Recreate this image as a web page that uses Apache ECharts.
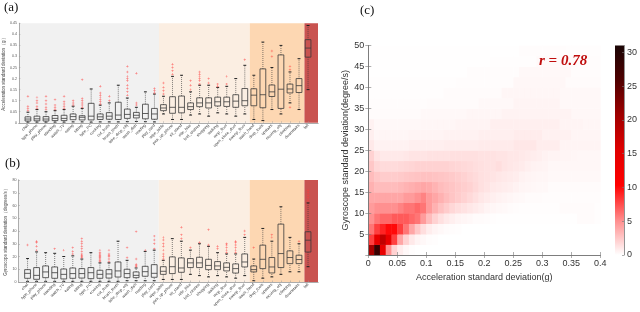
<!DOCTYPE html>
<html><head><meta charset="utf-8">
<script src="https://cdn.jsdelivr.net/npm/echarts@6/dist/echarts.min.js"></script>
<style>html,body{margin:0;padding:0;background:#fff}#c{width:640px;height:312px}</style>
</head><body><div id="c"></div>
<script>
// ---------------- DATA ----------------
const activities = ['chat','type_phone','play_phone','standing','watch_TV','eating','sitting','type_PC','cooking','cut_fruits','brush_teeth','take_drop_obj','wash_dish','reading','play_card','wipe_table','pick_up_phone','sit_stand','ride_bike','fold_clothes','shopping','walking','mop_floor','open_close_door','sweep_floor','wash_hand','drop_tools','upstairs','moving_obj','climbing','downstairs','fall'];
// [min, Q1, median, Q3, max]
const accStats = [
 [0.003,0.008,0.017,0.027,0.048],[0.003,0.009,0.018,0.03,0.06],[0.003,0.008,0.017,0.028,0.05],[0.003,0.01,0.02,0.033,0.055],
 [0.003,0.01,0.02,0.034,0.06],[0.004,0.014,0.028,0.04,0.075],[0.004,0.013,0.025,0.032,0.065],[0.003,0.013,0.03,0.088,0.153],
 [0.004,0.015,0.027,0.04,0.08],[0.004,0.016,0.03,0.046,0.09],[0.004,0.015,0.035,0.093,0.17],[0.005,0.02,0.038,0.062,0.112],
 [0.006,0.022,0.034,0.047,0.07],[0.005,0.018,0.042,0.084,0.14],[0.004,0.016,0.04,0.065,0.13],[0.04,0.055,0.067,0.082,0.12],
 [0.015,0.043,0.07,0.118,0.21],[0.015,0.045,0.07,0.121,0.215],[0.035,0.06,0.073,0.09,0.14],[0.04,0.073,0.09,0.113,0.17],
 [0.03,0.067,0.09,0.113,0.17],[0.045,0.076,0.095,0.116,0.16],[0.04,0.074,0.095,0.116,0.165],[0.03,0.07,0.098,0.127,0.2],
 [0.04,0.077,0.1,0.155,0.26],[0.015,0.077,0.125,0.154,0.215],[0.01,0.068,0.127,0.244,0.365],[0.06,0.119,0.14,0.171,0.25],
 [0.04,0.065,0.152,0.307,0.35],[0.09,0.135,0.153,0.175,0.23],[0.06,0.137,0.168,0.2,0.29],[0.15,0.297,0.338,0.376,0.44]
];
const accOutliers = [
 [0.055,0.065,0.075,0.12],[0.065,0.075,0.09,0.1,0.115],[0.06,0.07,0.085,0.1,0.12],[0.06,0.07,0.08,0.105],
 [0.065,0.075,0.085,0.095,0.12],[0.08,0.09,0.1],[0.07,0.08,0.09,0.1,0.11,0.195],[],
 [0.085,0.095,0.105,0.115,0.125,0.135,0.165],[0.1,0.12],[],[0.125,0.14,0.155,0.17,0.19,0.2,0.21,0.23,0.255],
 [0.08,0.09,0.224],[],[0.135,0.145,0.155],[0.13,0.145,0.16,0.18],
 [0.22,0.235,0.25,0.265],[],[0.15,0.17,0.19],[0.175,0.19,0.2,0.21,0.22,0.23],
 [0.18,0.2],[0.165,0.175],[0.175,0.21],[],
 [0.285],[],[],[0.3,0.325],
 [],[0.07,0.24,0.255],[],[]
];
const gyroStats = [
 [0.5,2.9,6.8,9.7,18.4],[0.5,2.1,5.2,11.3,23.6],[0.5,3.4,7.9,12.6,23],[0.5,2.9,7.3,11.8,22.5],
 [0.5,2.4,6,10.2,20],[0.5,2.9,6.6,11,20.5],[0.5,3.1,6.6,10.5,18],[0.5,2.6,7.3,11.3,23],
 [0.5,2.9,6,9.2,15],[0.5,3.1,6.3,9.7,15],[0.5,3.9,8.7,15.7,32],[1,3.4,6.6,10,17],
 [1,3.4,5.2,7.9,11],[1,4.5,8.1,12.3,24],[1,3.7,6.8,13.6,25],[2,6,8.4,12,17],
 [2,6.6,12,19.7,34],[2,7.6,11,18.9,32],[6,11.3,15,18.4,25],[5,11.3,15,19.4,30],
 [4,9.7,13,17.8,28],[5,9.7,12.6,16,23],[4,8.7,11.5,15,22],[3,7,10.5,14.2,22],
 [5,11.8,15.7,22,35],[1,7.9,9.7,12.6,18],[3,10.5,17.8,28.9,42],[4,7.1,11.8,19.2,32],
 [6,11.3,22.3,45.4,59],[8,14.4,19.2,24.4,35],[8,14.4,17.6,21,30],[12,23.5,32.8,39.4,62]
];
const gyroOutliers = [
 [29],[25,28,31,32],[],[26],
 [25],[22,24,27],[19,20,21,22,24,26,28,30,32,34],[],
 [16,17,18,19,20,21,22,23,25],[16,18,20,21,22,25],[],[19,27],
 [12,13,14,18,39.5],[25],[26,30,33,36],[18,20,22,25,28,30,33,35],
 [],[34,37,43],[27],[31],
 [29,41],[26,28],[23,25,27,29,30],[23,25,27,29,31,32],
 [37,40],[27],[],[35,37],
 [],[],[32],[64,66,68,70,72]
];
// activity groups (edges on the box-position scale)
const groupEdges = [0, 15.5, 25.55, 31.6, 33.1];

// Panel (c): density of (acc std, gyro std) pairs, bins 0.01 g x 2.5 deg/s, rows from y=0 upward
const binX = 0.01, binY = 2.5;
const densityRows = [
 [20,28,14,5,2,0.8,0.3,0.1,0,0, 0,0,0,0,0,0,0,0,0,0, 0,0,0,0,0,0,0,0,0,0, 0,0,0,0,0,0,0,0,0,0],
 [8,14,18,14,8,4,2,1,0.5,0.3, 0.15,0.1,0,0,0,0,0,0,0,0, 0,0,0,0,0,0,0,0,0,0, 0,0,0,0,0,0,0,0,0,0],
 [6,8,9,10,10,8,6,4,2.5,1.5, 0.8,0.5,0.3,0.2,0.15,0.1,0,0,0,0, 0,0,0,0,0,0,0,0,0,0, 0,0,0,0,0,0,0,0,0,0],
 [5,6,6.5,6.5,7,7,7,6.5,6,4.5, 3,2,1.4,1,0.7,0.5,0.4,0.3,0.2,0.2, 0.15,0.1,0.05,0.05,0.05,0.05,0.05,0.05,0.05,0.05, 0.05,0.05,0.05,0.05,0.05,0.05,0.2,0.2,0.2,0.1],
 [4.5,5,5,5,5,5.5,6,6,6.5,6, 4.5,3.5,2.8,2.3,1.8,1.5,1.3,1.1,0.9,0.7, 0.5,0.4,0.3,0.25,0.2,0.15,0.1,0.1,0.1,0.1, 0.1,0.1,0.1,0.2,0.2,0.2,0.2,0.2,0.2,0.1],
 [4,4,4,4,4,4,4.5,4.5,5,5.5, 4.5,4,3.5,3,2.6,2.3,2,1.7,1.4,1.1, 0.9,0.7,0.6,0.5,0.4,0.3,0.25,0.2,0.2,0.2, 0.15,0.15,0.15,0.15,0.15,0.15,0.15,0.15,0.15,0.15],
 [3.5,3,3,3,3,3.2,3.4,3.6,3.8,4, 3.8,3.4,3,2.8,2.6,2.4,2.2,2,1.7,1.4, 1.2,1,0.9,0.8,0.7,0.6,0.45,0.4,0.35,0.3, 0.3,0.2,0.2,0.2,0.2,0.2,0.2,0.2,0.2,0.2],
 [3,2.5,2.3,2.3,2.3,2.4,2.5,2.6,2.7,2.8, 2.8,2.7,2.6,2.5,2.4,2.2,2,1.8,1.6,1.4, 1.3,1.2,1.1,1,0.9,0.8,0.6,0.5,0.45,0.4, 0.4,0.3,0.3,0.3,0.3,0.3,0.3,0.3,0.3,0.3],
 [2.5,1.8,1.6,1.6,1.6,1.7,1.8,1.9,2,2, 2,2,2,2,1.9,1.8,1.7,1.6,1.5,1.4, 1.3,1.3,1.5,1.2,1.1,1,0.9,0.7,0.6,0.55, 0.5,0.35,0.35,0.35,0.35,0.35,0.35,0.35,0.35,0.35],
 [2,1.2,1,1,1,1,1.1,1.2,1.2,1.2, 1.3,1.3,1.3,1.3,1.4,1.4,1.4,1.4,1.4,1.3, 1.3,1.3,1.2,1.2,1.1,1.1,1,0.9,0.8,0.7, 0.6,0.5,0.5,0.45,0.45,0.4,0.35,0.35,0.35,0.35],
 [1,0.6,0.6,0.6,0.6,0.6,0.6,0.7,0.7,0.7, 0.7,0.7,0.7,0.8,0.8,0.8,0.8,0.8,0.8,0.9, 0.9,0.9,0.9,0.9,0.9,1.1,1.1,1.1,1.1,0.8, 0.8,0.8,0.8,0.5,0.5,0.5,0.5,0.5,0.5,0.5],
 [0.7,0.4,0.4,0.4,0.4,0.4,0.4,0.5,0.5,0.5, 0.5,0.5,0.5,0.6,0.6,0.6,0.6,0.6,0.6,0.7, 0.7,0.7,0.7,0.7,0.7,0.85,0.85,0.85,0.85,0.85, 0.65,0.65,0.65,0.65,0.65,0.45,0.45,0.45,0.45,0.45],
 [0.6,0.3,0.3,0.3,0.3,0.3,0.3,0.3,0.3,0.4, 0.4,0.4,0.4,0.4,0.4,0.5,0.5,0.5,0.5,0.5, 0.5,0.7,0.7,0.7,0.7,0.7,0.7,0.7,0.7,0.7, 0.7,0.7,0.7,0.5,0.5,0.5,0.5,0.4,0.4,0.4],
 [0.2,0.2,0.2,0.2,0.2,0.2,0.2,0.2,0.2,0.3, 0.3,0.3,0.3,0.3,0.3,0.3,0.3,0.4,0.4,0.4, 0.4,0.4,0.4,0.55,0.55,0.55,0.55,0.55,0.55,0.55, 0.55,0.55,0.55,0.55,0.55,0.35,0.35,0.35,0.35,0.35],
 [0.15,0.15,0.15,0.15,0.15,0.15,0.15,0.15,0.15,0.15, 0.2,0.2,0.2,0.2,0.2,0.2,0.2,0.2,0.2,0.3, 0.3,0.3,0.3,0.3,0.3,0.5,0.5,0.5,0.5,0.5, 0.5,0.5,0.5,0.3,0.3,0.3,0.3,0.3,0.3,0.3],
 [0.1,0.1,0.1,0.1,0.1,0.1,0.1,0.1,0.1,0.1, 0.1,0.1,0.1,0.2,0.2,0.2,0.2,0.2,0.2,0.2, 0.2,0.2,0.2,0.4,0.4,0.4,0.4,0.4,0.4,0.4, 0.4,0.4,0.4,0.3,0.3,0.3,0.3,0.3,0.3,0.3],
 [0.08,0.08,0.08,0.08,0.08,0.08,0.08,0.08,0.08,0.08, 0.08,0.08,0.08,0.08,0.08,0.15,0.15,0.15,0.15,0.15, 0.15,0.15,0.15,0.15,0.15,0.35,0.35,0.35,0.35,0.35, 0.35,0.35,0.35,0.35,0.2,0.2,0.2,0.2,0.2,0.2],
 [0.05,0.05,0.05,0.05,0.05,0.05,0.05,0.05,0.05,0.05, 0.05,0.05,0.05,0.05,0.05,0.05,0.05,0.12,0.12,0.12, 0.12,0.12,0.12,0.12,0.12,0.12,0.3,0.3,0.3,0.3, 0.3,0.3,0.3,0.3,0.3,0.15,0.15,0.15,0.15,0.15],
 [0.05,0.05,0.05,0.05,0.05,0.05,0.05,0.05,0.05,0.05, 0.05,0.05,0.05,0.05,0.05,0.05,0.05,0.05,0.05,0.05, 0.05,0.1,0.1,0.1,0.1,0.1,0.1,0.1,0.1,0.25, 0.25,0.25,0.25,0.25,0.25,0.25,0.12,0.12,0.12,0.12],
 [0.03,0.03,0.03,0.03,0.03,0.03,0.03,0.03,0.03,0.03, 0.03,0.03,0.03,0.03,0.03,0.03,0.03,0.03,0.03,0.03, 0.03,0.03,0.03,0.03,0.03,0.03,0.15,0.15,0.15,0.15, 0.15,0.15,0.15,0.15,0.1,0.1,0.1,0.1,0.1,0.1]
];
const densityMax = 31;
const correlation = 'r = 0.78';

// ---------------- STYLES ----------------
const groupColors = ['#f1f1f1', '#fbeee2', '#fdd7b2', '#c95350'];
const cmap = ['#ffffff','#ff8c8c','#ff0000','#e00000','#a00000','#500000','#1a0505'];
const SANS = 'Liberation Sans, Arial, sans-serif';
const SERIF = 'Liberation Serif, Times New Roman, serif';

// ---------------- BUILD ----------------
const positions = activities.map((_, i) => i + 1);
const boxData = s => s.map((v, i) => [i + 1].concat(v));
const outlierData = o => { const r = []; o.forEach((arr, i) => arr.forEach(v => r.push([i + 1, v]))); return r; };
const bgData = groupEdges.slice(0, -1).map((e, k) => [e, groupEdges[k + 1], k]);
const density = [];
densityRows.forEach((row, r) => row.forEach((v, c) => { if (v > 0) density.push([c * binX, r * binY, v]); }));

function bgRender(params, api) {
  const cs = params.coordSys;
  const a = api.coord([api.value(0), 0]), b = api.coord([api.value(1), 0]);
  return { type: 'rect', shape: { x: a[0], y: cs.y, width: b[0] - a[0], height: cs.height },
    style: { fill: groupColors[api.value(2)] } };
}
function boxRender(params, api) {
  const x = api.value(0);
  const w = api.size([1, 0])[0] * 0.64;
  const p = [1, 2, 3, 4, 5].map(k => api.coord([x, api.value(k)]));
  const cx = p[0][0];
  const stroke = '#3a3a3a';
  const dot = { stroke, lineWidth: 0.8, lineDash: [0.8, 1.2] };
  const solid = { stroke, lineWidth: 0.8, fill: null };
  return { type: 'group', children: [
    { type: 'line', shape: { x1: cx, y1: p[0][1], x2: cx, y2: p[1][1] }, style: dot },
    { type: 'line', shape: { x1: cx, y1: p[3][1], x2: cx, y2: p[4][1] }, style: dot },
    { type: 'line', shape: { x1: cx - w * 0.25, y1: p[0][1], x2: cx + w * 0.25, y2: p[0][1] }, style: { stroke: '#222', lineWidth: 1 } },
    { type: 'line', shape: { x1: cx - w * 0.25, y1: p[4][1], x2: cx + w * 0.25, y2: p[4][1] }, style: { stroke: '#222', lineWidth: 1 } },
    { type: 'rect', shape: { x: cx - w / 2, y: p[3][1], width: w, height: p[1][1] - p[3][1] }, style: solid },
    { type: 'line', shape: { x1: cx - w / 2, y1: p[2][1], x2: cx + w / 2, y2: p[2][1] }, style: solid }
  ] };
}
function cellRender(params, api) {
  const x = api.value(0), y = api.value(1);
  const a = api.coord([x, y + binY]), b = api.coord([x + binX, y]);
  return { type: 'rect', shape: { x: a[0], y: a[1], width: b[0] - a[0] + 0.4, height: b[1] - a[1] + 0.4 },
    style: { fill: api.visual('color') } };
}
const plus = 'path://M2,0H3V2H5V3H3V5H2V3H0V2H2Z';

const frameLine = { show: true, lineStyle: { color: '#a8a8a8', width: 0.8 } };
function boxAxes(gridIndex, ymax, yint, yname) {
  const x = [
    { type: 'value', gridIndex, min: 0, max: groupEdges[groupEdges.length - 1], z: 5,
      axisLine: frameLine, splitLine: { show: false },
      axisTick: { show: true, inside: true, length: 1.5, customValues: positions, lineStyle: { color: '#999', width: 0.5 } },
      axisLabel: { customValues: positions, formatter: v => activities[v - 1], rotate: 45, fontSize: 4, color: '#444', margin: 2, fontFamily: SANS } },
    { type: 'value', gridIndex, position: 'top', min: 0, max: groupEdges[groupEdges.length - 1], z: 5,
      axisLine: frameLine, axisTick: { show: false }, axisLabel: { show: false }, splitLine: { show: false } }
  ];
  const y = [
    { type: 'value', gridIndex, min: 0, max: ymax, interval: yint, z: 5,
      name: yname, nameLocation: 'middle', nameRotate: 90, nameGap: 9,
      nameTextStyle: { fontSize: 4.5, color: '#444', fontFamily: SANS },
      axisLine: frameLine, splitLine: { show: false },
      axisTick: { show: true, inside: true, length: 1.5, lineStyle: { color: '#999', width: 0.5 } },
      axisLabel: { fontSize: 3.6, color: '#555', margin: 2, fontFamily: SANS } },
    { type: 'value', gridIndex, position: 'right', min: 0, max: ymax, interval: yint, z: 5,
      axisLine: frameLine, axisTick: { show: false }, axisLabel: { show: false }, splitLine: { show: false } }
  ];
  return { x, y };
}
const A = boxAxes(0, 0.45, 0.05, 'Acceleration standard deviation（g）');
const B = boxAxes(1, 80, 10, 'Gyroscope standard deviation（degrees/s）');

const cLine = { show: true, lineStyle: { color: '#777', width: 0.8 } };
const cTick = { show: true, inside: true, length: 3, lineStyle: { color: '#777', width: 0.6 } };
const cLab = { fontSize: 9, color: '#333', fontFamily: SANS };

const option = {
  animation: false,
  backgroundColor: '#fff',
  grid: [
    { left: 18.5, top: 23.3, width: 299.5, height: 99.5 },
    { left: 18.5, top: 180, width: 299.5, height: 102 },
    { left: 368.3, top: 45.5, width: 232, height: 209.5 },
    { left: 615, top: 45.5, width: 17, height: 209.5 }
  ],
  xAxis: [
    A.x[0], A.x[1], B.x[0], B.x[1],
    { type: 'value', gridIndex: 2, min: 0, max: 0.4, interval: 0.05, z: 5,
      name: 'Acceleration standard deviation(g)', nameLocation: 'middle', nameGap: 15,
      nameTextStyle: cLab, axisLine: cLine, axisTick: cTick, splitLine: { show: false },
      axisLabel: Object.assign({ margin: 4 }, cLab) },
    { type: 'value', gridIndex: 2, position: 'top', min: 0, max: 0.4, interval: 0.05, z: 5,
      axisLine: cLine, axisTick: cTick, axisLabel: { show: false }, splitLine: { show: false } },
    { type: 'category', gridIndex: 3, data: ['c'], show: false }
  ],
  yAxis: [
    A.y[0], A.y[1], B.y[0], B.y[1],
    { type: 'value', gridIndex: 2, min: 0, max: 50, interval: 5, z: 5,
      name: 'Gyroscope standard deviation(degree/s)', nameLocation: 'middle', nameRotate: 90, nameGap: 17,
      nameTextStyle: cLab, axisLine: cLine, axisTick: cTick, splitLine: { show: false },
      axisLabel: Object.assign({ margin: 4, formatter: v => v === 0 ? '' : v }, cLab) },
    { type: 'value', gridIndex: 2, position: 'right', min: 0, max: 50, interval: 5, z: 5,
      axisLine: cLine, axisTick: cTick, axisLabel: { show: false }, splitLine: { show: false } },
    { type: 'value', gridIndex: 3, position: 'right', min: 0, max: densityMax, interval: 5, z: 5,
      axisLine: cLine, axisTick: { show: true, inside: true, length: 2, lineStyle: { color: '#777', width: 0.6 } },
      splitLine: { show: false }, axisLabel: Object.assign({ margin: 3 }, cLab) }
  ],
  visualMap: {
    type: 'continuous', show: false, min: 0, max: densityMax, dimension: 2, seriesIndex: 8,
    inRange: { color: cmap }
  },
  series: [
    { type: 'custom', xAxisIndex: 0, yAxisIndex: 0, z: 1, data: bgData, renderItem: bgRender, encode: { x: [0, 1] }, silent: true },
    { type: 'custom', xAxisIndex: 0, yAxisIndex: 0, z: 3, data: boxData(accStats), renderItem: boxRender, encode: { x: 0, y: [1, 2, 3, 4, 5] } },
    { type: 'scatter', xAxisIndex: 0, yAxisIndex: 0, z: 4, data: outlierData(accOutliers), symbol: plus, symbolSize: 2.4, itemStyle: { color: '#ff3b3b', opacity: 0.75 } },
    { type: 'custom', xAxisIndex: 2, yAxisIndex: 2, z: 1, data: bgData, renderItem: bgRender, encode: { x: [0, 1] }, silent: true },
    { type: 'custom', xAxisIndex: 2, yAxisIndex: 2, z: 3, data: boxData(gyroStats), renderItem: boxRender, encode: { x: 0, y: [1, 2, 3, 4, 5] } },
    { type: 'scatter', xAxisIndex: 2, yAxisIndex: 2, z: 4, data: outlierData(gyroOutliers), symbol: plus, symbolSize: 2.4, itemStyle: { color: '#ff3b3b', opacity: 0.75 } },
    { type: 'bar', xAxisIndex: 6, yAxisIndex: 6, barWidth: '100%', data: [densityMax], silent: true,
      itemStyle: { color: { type: 'linear', x: 0, y: 1, x2: 0, y2: 0,
        colorStops: cmap.map((c, i) => ({ offset: i / (cmap.length - 1), color: c })) } } },
    { type: 'scatter', xAxisIndex: 4, yAxisIndex: 4, data: [] },
    { type: 'custom', xAxisIndex: 4, yAxisIndex: 4, z: 2, data: density, renderItem: cellRender, encode: { x: 0, y: 1 }, silent: true }
  ],
  graphic: [
    { type: 'text', left: 4, top: 1, style: { text: '(a)', font: '13px ' + SERIF, fill: '#111' } },
    { type: 'text', left: 5, top: 157, style: { text: '(b)', font: '13px ' + SERIF, fill: '#111' } },
    { type: 'text', left: 360, top: 4, style: { text: '(c)', font: '13px ' + SERIF, fill: '#111' } },
    { type: 'text', left: 539, top: 54, z: 10, style: { text: correlation, font: 'italic bold 15px ' + SERIF, fill: '#c00d0d' } }
  ]
};
echarts.init(document.getElementById('c')).setOption(option);
</script></body></html>
